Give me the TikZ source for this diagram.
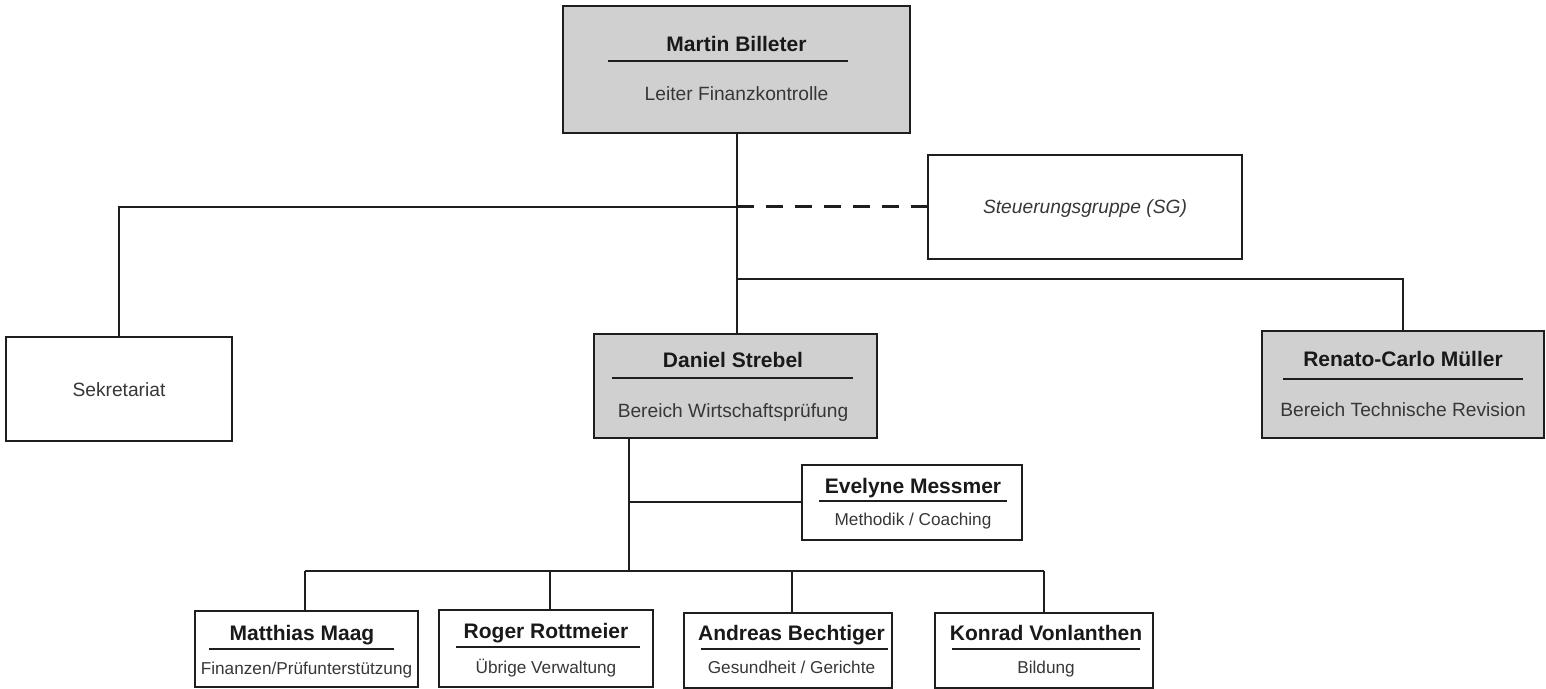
\documentclass[tikz,border=0pt]{standalone}
\usepackage{fontspec}
\setmainfont{Liberation Sans}
\definecolor{boxgray}{RGB}{208,208,208}
\definecolor{linec}{RGB}{30,30,30}
\definecolor{titlec}{RGB}{25,25,25}
\definecolor{subc}{RGB}{55,55,55}
\tikzset{
  gbox/.style={draw=linec, line width=1pt, fill=boxgray, inner sep=0pt, outer sep=0pt, rectangle},
  wbox/.style={draw=linec, line width=1pt, fill=white, inner sep=0pt, outer sep=0pt, rectangle},
  ttl/.style={font=\bfseries\fontsize{10.5}{12}\selectfont, text=titlec, anchor=base, inner sep=0pt},
  sub/.style={font=\fontsize{9.6}{11}\selectfont, text=subc, anchor=base, inner sep=0pt},
  ssub/.style={font=\fontsize{8.6}{10}\selectfont, text=subc, anchor=base, inner sep=0pt},
  rulel/.style={draw=linec, line width=0.75pt},
  conn/.style={draw=linec, line width=1pt},
  thinconn/.style={draw=linec, line width=0.65pt},
  dashconn/.style={draw=linec, line width=1.5pt, dash pattern=on 8.5pt off 6pt},
}
\begin{document}
\begin{tikzpicture}[x=0.5pt,y=-0.5pt]
\useasboundingbox (0,0) rectangle (1546,689);
% boxes
\node[gbox, minimum width=173.5pt, minimum height=63.5pt] (top) at (736.5,69.5) {};
\node[wbox, minimum width=113pt, minimum height=52pt] (sek) at (119,389) {};
\node[wbox, minimum width=157pt, minimum height=52pt] (sg) at (1085,207) {};
\node[gbox, minimum width=141.5pt, minimum height=52pt] (dan) at (735.5,386) {};
\node[gbox, minimum width=141pt, minimum height=53.5pt] (ren) at (1403,384.5) {};
\node[wbox, minimum width=110pt, minimum height=37.5pt] (eve) at (912,502.5) {};
\node[wbox, minimum width=111.5pt, minimum height=38pt] (mat) at (306.5,649) {};
\node[wbox, minimum width=107pt, minimum height=38.5pt] (rog) at (546,648.5) {};
\node[wbox, minimum width=104pt, minimum height=37.5pt] (and) at (788,650.5) {};
\node[wbox, minimum width=109pt, minimum height=37.5pt] (kon) at (1044,650.5) {};
% texts
\node[ttl] (topT) at (736.5,52) {Martin Billeter};
\draw[rulel] (608,61) -- (848,61);
\node[sub] (topS) at (736.5,101) {Leiter Finanzkontrolle};
\node[sub] (sekT) at (119,396) {Sekretariat};
\node[sub, font=\itshape\fontsize{9.6}{11}\selectfont] (sgT) at (1085,214) {Steuerungsgruppe (SG)};
\node[ttl] (danT) at (733,367.5) {Daniel Strebel};
\draw[rulel] (612,378) -- (853,378);
\node[sub] (danS) at (733,417.5) {Bereich Wirtschaftsprüfung};
\node[ttl] (renT) at (1403,366) {Renato-Carlo Müller};
\draw[rulel] (1283,379) -- (1523,379);
\node[sub] (renS) at (1403,416) {Bereich Technische Revision};
\node[ttl] (eveT) at (913,493) {Evelyne Messmer};
\draw[rulel] (819,501) -- (1007,501);
\node[ssub] (eveS) at (913,525) {Methodik / Coaching};
\node[ttl] (matT) at (302,640) {Matthias Maag};
\draw[rulel] (209,649) -- (394,649);
\node[ssub] (matS) at (306.5,674) {Finanzen/Prüfunterstützung};
\node[ttl] (rogT) at (546,638) {Roger Rottmeier};
\draw[rulel] (456,647) -- (640,647);
\node[ssub] (rogS) at (546,673) {Übrige Verwaltung};
\node[ttl] (andT) at (791.5,640) {Andreas Bechtiger};
\draw[rulel] (701,649) -- (888,649);
\node[ssub] (andS) at (791.5,673) {Gesundheit / Gerichte};
\node[ttl] (konT) at (1046,640) {Konrad Vonlanthen};
\draw[rulel] (952,649) -- (1140,649);
\node[ssub] (konS) at (1046,673) {Bildung};
% junction coordinates
\coordinate (j1) at (737,207);
\coordinate (j2) at (737,279);
\coordinate (dbot) at (629,438);
\coordinate (ej) at (629,502);
\coordinate (bus) at (629,571);
\coordinate (b1) at (305,571);
\coordinate (b2) at (550,571);
\coordinate (b3) at (792,571);
\coordinate (b4) at (1044,571);
% connectors
\draw[conn] (top.south -| j1) -- (j1 |- dan.north);
\draw[thinconn] (j1) -| (sek.north);
\draw[dashconn] (j1) -- (sg.west |- j1);
\draw[conn] (j2) -| (ren.north);
\draw[conn] (dbot) -- (bus);
\draw[conn] (ej) -- (eve.west |- ej);
\draw[conn] (b1) -- (b4);
\draw[conn] (b1) -- (b1 |- mat.north);
\draw[conn] (b2) -- (b2 |- rog.north);
\draw[conn] (b3) -- (b3 |- and.north);
\draw[conn] (b4) -- (b4 |- kon.north);
\end{tikzpicture}
\end{document}
